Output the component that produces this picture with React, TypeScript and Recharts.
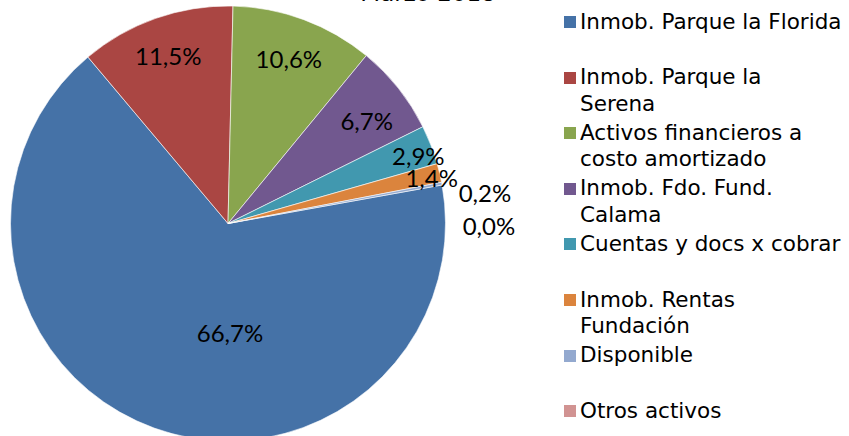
import { PieChart, Pie, Cell, Legend } from 'recharts';

// Composición de activos, marzo 2018
const NAMES = [
  'Inmob. Parque la Florida',
  'Inmob. Parque la Serena',
  'Activos financieros a costo amortizado',
  'Inmob. Fdo. Fund. Calama',
  'Cuentas y docs x cobrar',
  'Inmob. Rentas Fundación',
  'Disponible',
  'Otros activos',
];
const VALUES = [66.7, 11.5, 10.6, 6.7, 2.9, 1.4, 0.2, 0.0];
const COLORS = ['#4572A7', '#AA4643', '#89A54E', '#71588F', '#4198AF', '#DB843D', '#93A9CF', '#D19392'];
const TITLE = 'Marzo 2018';

// label placement per slice: [radius factor, angle nudge in degrees]
const LABEL_PLACE: [number, number][] = [
  [0.503, 20.9],
  [0.82, 0.2],
  [0.81, 0.2],
  [0.795, -1.8],
  [0.93, -1.4],
  [0.96, -0.7],
  [1.19, -3.7],
  [1.2, -10.7],
];

const data = NAMES.map((name, i) => ({ name, value: VALUES[i] }));

const RAD = Math.PI / 180;

function renderLabel(props: any) {
  const { cx, cy, midAngle, outerRadius, index, value } = props;
  const [rf, da] = LABEL_PLACE[index] ?? [0.8, 0];
  const a = (midAngle + da) * RAD;
  const r = outerRadius * rf;
  const x = cx + r * Math.cos(a);
  const y = cy - r * Math.sin(a);
  return (
    <text
      key={`lbl-${index}`}
      x={x}
      y={y}
      textAnchor="middle"
      dominantBaseline="central"
      fill="#000"
      style={{ fontFamily: 'Lato, sans-serif', fontSize: 24 }}
    >
      {Number(value).toFixed(1).replace('.', ',')}%
    </text>
  );
}

function renderLegend() {
  return (
    <div style={{ fontFamily: '"DejaVu Sans", Verdana, sans-serif', fontSize: 21.5, color: '#000' }}>
      {NAMES.map((n, i) => (
        <div
          key={n}
          style={{ position: 'absolute', left: 0, top: i * 55.6, display: 'flex', alignItems: 'flex-start' }}
        >
          <span
            style={{
              display: 'inline-block',
              width: 12,
              height: 12,
              background: COLORS[i],
              marginTop: 7.5,
              marginRight: 4,
              flex: 'none',
            }}
          />
          <span style={{ lineHeight: '26.5px', width: 261.5, display: 'inline-block' }}>{n}</span>
        </div>
      ))}
    </div>
  );
}

export default function App() {
  return (
    <div style={{ position: 'absolute', left: 0, top: 0, width: 849, height: 436, background: '#fff', overflow: 'hidden' }}>
      <PieChart width={849} height={436} margin={{ top: 0, right: 0, bottom: 0, left: 0 }}>
        <text
          x={428}
          y={1}
          textAnchor="middle"
          fill="#000"
          style={{ fontFamily: '"DejaVu Sans", Verdana, sans-serif', fontSize: 23 }}
        >
          {TITLE}
        </text>
        <Pie
          data={data}
          dataKey="value"
          nameKey="name"
          cx={228}
          cy={223.5}
          outerRadius={217.5}
          startAngle={10.2}
          endAngle={-349.8}
          stroke="#ffffff"
          strokeWidth={0.6}
          label={renderLabel}
          labelLine={false}
          isAnimationActive={false}
        >
          {data.map((d, i) => (
            <Cell key={d.name} fill={COLORS[i]} />
          ))}
        </Pie>
        <Legend
          content={renderLegend}
          wrapperStyle={{ position: 'absolute', left: 564, top: 8.5, width: 285, height: 430 }}
        />
      </PieChart>
    </div>
  );
}
